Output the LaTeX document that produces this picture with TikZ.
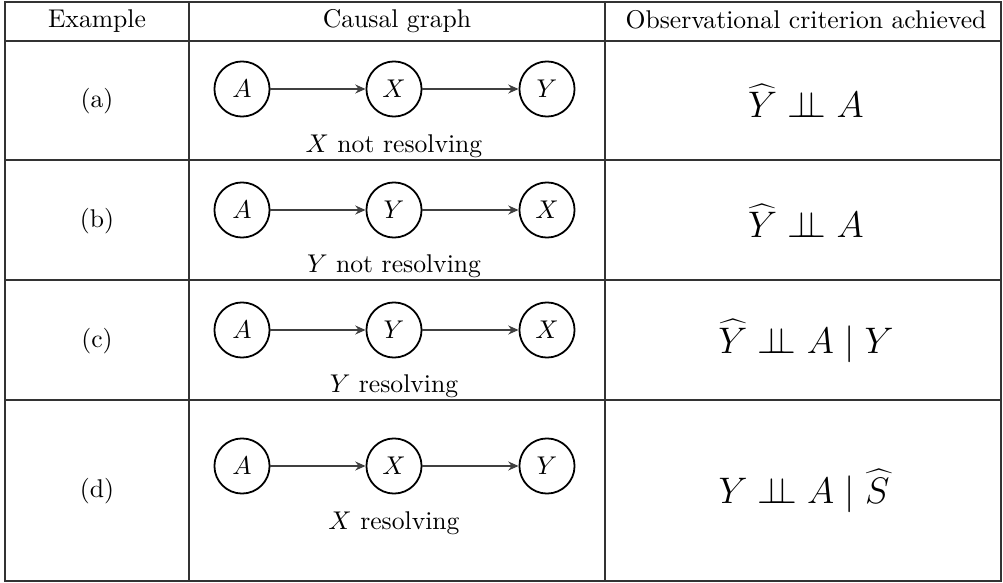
\documentclass[tikz,border=0pt]{standalone}
\usetikzlibrary{arrows.meta}
\newcommand{\myindep}{\mathrel{\perp\!\!\!\perp}}
\begin{document}
\begin{tikzpicture}[x=0.39pt,y=-0.39pt,
  grid/.style={line width=0.6pt, draw=black!80},
  vnode/.style={circle, draw, line width=0.7pt, minimum size=21.5pt, inner sep=0pt},
  edge/.style={-{Stealth[length=4pt,width=3.5pt]}, draw=black!75, line width=0.5pt},
  crit/.style={font=\Large}]
\useasboundingbox (0,0) rectangle (1003,583);
% table frame
\draw[grid] (5,2) rectangle (1001,581);
\draw[grid] (189,2) -- (189,581);
\draw[grid] (605,2) -- (605,581);
\foreach \yy in {41,160,280,400} \draw[grid] (5,\yy) -- (1001,\yy);
% header
\node (h1) at (97,21) {Example};
\node (h2) at (397,21) {Causal graph};
\node (h3) at (806,20) {Observational criterion achieved};
% rows
\foreach \n/\cy/\ly/\my/\vb/\vc/\lab/\ex/\crit in {
  a/89/146/101/X/Y/{$X$ not resolving}/(a)/{$\widehat{Y}\myindep A$},
  b/210/266/221/Y/X/{$Y$ not resolving}/(b)/{$\widehat{Y}\myindep A$},
  c/330/386/341/Y/X/{$Y$ resolving}/(c)/{$\widehat{Y}\myindep A\mid Y$},
  d/466/523/491/X/Y/{$X$ resolving}/(d)/{$Y\myindep A\mid \widehat{S\kern1.5pt}$}}{
  \node[vnode] (A\n) at (242,\cy) {$A$};
  \node[vnode] (B\n) at (394,\cy) {$\vb$};
  \node[vnode] (C\n) at (547,\cy) {$\vc$};
  \draw[edge] (A\n) -- (B\n);
  \draw[edge] (B\n) -- (C\n);
  \node (L\n) at (394,\ly) {\lab};
  \node (E\n) at (97,\my) {\ex};
  \node[crit] (K\n) at (806,\my) {\crit};
}
\end{tikzpicture}
\end{document}
